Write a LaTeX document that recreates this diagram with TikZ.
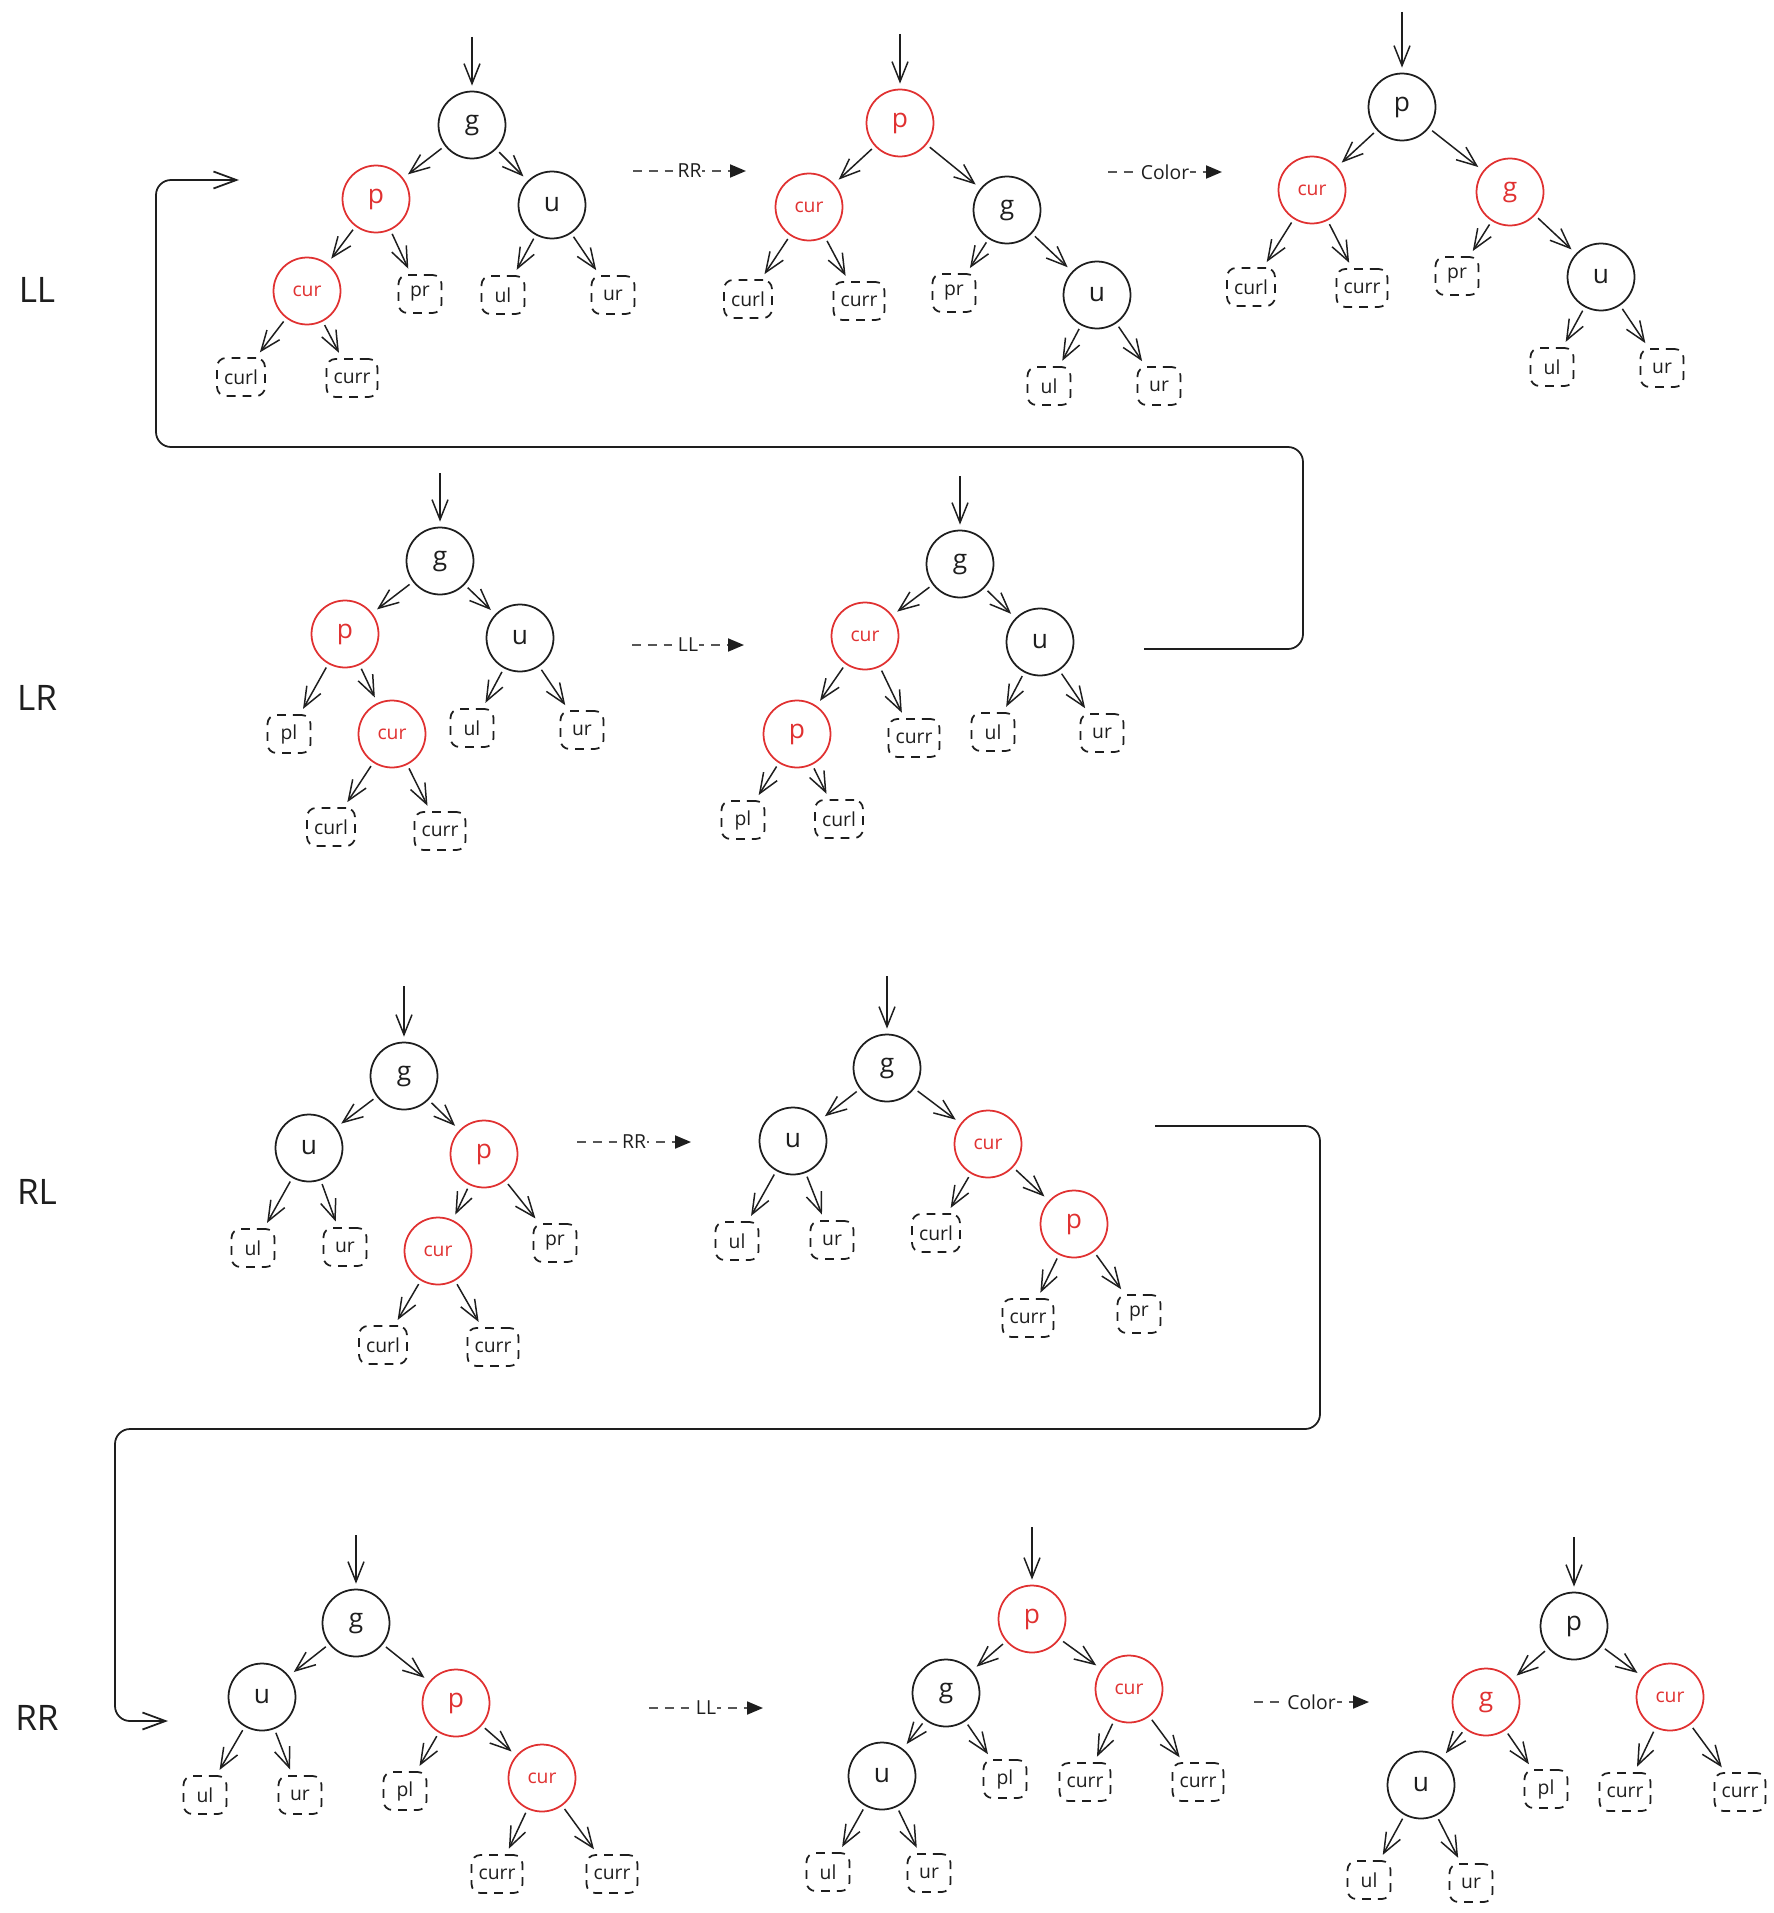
\documentclass[tikz,border=0pt]{standalone}
\usepackage{fontspec}
\setmainfont{Open Sans}
\usepackage{xcolor}
\usepackage{tikz}
\usetikzlibrary{arrows.meta}

\definecolor{exRed}{HTML}{E03131}
\definecolor{exInk}{HTML}{1E1E1E}

\tikzset{
  blackNode/.style={circle, draw=exInk, line width=1pt, minimum size=1.34cm,
    inner sep=0pt, text=exInk, font=\fontsize{15}{17}\selectfont},
  redNode/.style={blackNode, draw=exRed, text=exRed},
  curNode/.style={redNode, font=\fontsize{11}{13}\selectfont},
  leafBox/.style={draw=exInk, line width=1pt, dash pattern=on 5pt off 4pt,
    rounded corners=5pt, minimum width=0.86cm, minimum height=0.76cm,
    inner xsep=4pt, inner ysep=2pt, text=exInk, font=\fontsize{11}{13}\selectfont},
  treeEdge/.style={draw=exInk, line width=0.85pt,
    -{Straight Barb[length=4mm, width=3.2mm]},
    shorten >=0.12cm, shorten <=0.08cm},
  entryEdge/.style={treeEdge, shorten <=0pt, shorten >=0.1cm},
  opArrow/.style={draw=exInk!75, line width=1.1pt, dash pattern=on 5pt off 4pt,
    -{Triangle[length=3.2mm, width=2.6mm, color=exInk, fill=exInk]}},
  opLabel/.style={fill=white, inner sep=0.5pt, text=exInk,
    font=\fontsize{11}{13}\selectfont},
  loopLine/.style={draw=exInk, line width=1pt, rounded corners=0.3cm,
    -{Straight Barb[length=4.6mm, width=3.4mm]}},
  rowLabel/.style={text=exInk, font=\fontsize{20}{24}\selectfont}
}

\begin{document}
\begin{tikzpicture}[x=0.02cm, y=-0.02cm]

\useasboundingbox (0,0) rectangle (1774,1913);

% --- row labels ---
\node[rowLabel] (llLabel) at (37,290) {LL};
\node[rowLabel] (lrLabel) at (37,698) {LR};
\node[rowLabel] (rlLabel) at (37,1192) {RL};
\node[rowLabel] (rrLabel) at (37,1718) {RR};

% ===================== LL =====================
\begin{scope}
\coordinate (llAIn) at (472,37);
\node[blackNode] (llAG) at (472,125) {g};
\node[redNode] (llAP) at (376,199) {p};
\node[blackNode] (llAU) at (552,205) {u};
\node[curNode] (llACur) at (307,291) {cur};
\node[leafBox] (llAPr) at (420,294) {pr};
\node[leafBox] (llAUl) at (503,295) {ul};
\node[leafBox] (llAUr) at (613,295) {ur};
\node[leafBox] (llACurl) at (241,377) {curl};
\node[leafBox] (llACurr) at (352,378) {curr};

\draw[entryEdge] (llAIn) -- (llAG);
\foreach \a/\b in {G/P, G/U, P/Cur, P/Pr, U/Ul, U/Ur, Cur/Curl, Cur/Curr}
  \draw[treeEdge] (llA\a) -- (llA\b);
\end{scope}

\coordinate (llOpOneFrom) at (633,171);
\coordinate (llOpOneTo) at (746,171);
\draw[opArrow] (llOpOneFrom) -- node[opLabel] (llOpOne) {RR} (llOpOneTo);

\begin{scope}
\coordinate (llBIn) at (900,34);
\node[redNode] (llBP) at (900,123) {p};
\node[curNode] (llBCur) at (809,207) {cur};
\node[blackNode] (llBG) at (1007,210) {g};
\node[leafBox] (llBCurl) at (748,299) {curl};
\node[leafBox] (llBCurr) at (859,301) {curr};
\node[leafBox] (llBPr) at (954,293) {pr};
\node[blackNode] (llBU) at (1097,295) {u};
\node[leafBox] (llBUl) at (1049,386) {ul};
\node[leafBox] (llBUr) at (1159,386) {ur};

\draw[entryEdge] (llBIn) -- (llBP);
\foreach \a/\b in {P/Cur, P/G, Cur/Curl, Cur/Curr, G/Pr, G/U, U/Ul, U/Ur}
  \draw[treeEdge] (llB\a) -- (llB\b);
\end{scope}

\coordinate (llOpTwoFrom) at (1108,172);
\coordinate (llOpTwoTo) at (1222,172);
\draw[opArrow] (llOpTwoFrom) -- node[opLabel] (llOpTwo) {Color} (llOpTwoTo);

\begin{scope}
\coordinate (llCIn) at (1402,12);
\node[blackNode] (llCP) at (1402,107) {p};
\node[curNode] (llCCur) at (1312,190) {cur};
\node[redNode] (llCG) at (1510,192) {g};
\node[leafBox] (llCCurl) at (1251,287) {curl};
\node[leafBox] (llCCurr) at (1362,288) {curr};
\node[leafBox] (llCPr) at (1457,276) {pr};
\node[blackNode] (llCU) at (1601,277) {u};
\node[leafBox] (llCUl) at (1552,367) {ul};
\node[leafBox] (llCUr) at (1662,368) {ur};

\draw[entryEdge] (llCIn) -- (llCP);
\foreach \a/\b in {P/Cur, P/G, Cur/Curl, Cur/Curr, G/Pr, G/U, U/Ul, U/Ur}
  \draw[treeEdge] (llC\a) -- (llC\b);
\end{scope}

% ===================== LR =====================
\begin{scope}
\coordinate (lrAIn) at (440,473);
\node[blackNode] (lrAG) at (440,561) {g};
\node[redNode] (lrAP) at (345,634) {p};
\node[blackNode] (lrAU) at (520,638) {u};
\node[leafBox] (lrAPl) at (289,734) {pl};
\node[curNode] (lrACur) at (392,734) {cur};
\node[leafBox] (lrAUl) at (472,728) {ul};
\node[leafBox] (lrAUr) at (582,730) {ur};
\node[leafBox] (lrACurl) at (331,827) {curl};
\node[leafBox] (lrACurr) at (440,831) {curr};

\draw[entryEdge] (lrAIn) -- (lrAG);
\foreach \a/\b in {G/P, G/U, P/Pl, P/Cur, U/Ul, U/Ur, Cur/Curl, Cur/Curr}
  \draw[treeEdge] (lrA\a) -- (lrA\b);
\end{scope}

\coordinate (lrOpFrom) at (632,645);
\coordinate (lrOpTo) at (744,645);
\draw[opArrow] (lrOpFrom) -- node[opLabel] (lrOp) {LL} (lrOpTo);

\begin{scope}
\coordinate (lrBIn) at (960,476);
\node[blackNode] (lrBG) at (960,564) {g};
\node[curNode] (lrBCur) at (865,636) {cur};
\node[blackNode] (lrBU) at (1040,642) {u};
\node[redNode] (lrBP) at (797,734) {p};
\node[leafBox] (lrBCurr) at (914,738) {curr};
\node[leafBox] (lrBUl) at (993,732) {ul};
\node[leafBox] (lrBUr) at (1102,733) {ur};
\node[leafBox] (lrBPl) at (743,820) {pl};
\node[leafBox] (lrBCurl) at (839,819) {curl};

\draw[entryEdge] (lrBIn) -- (lrBG);
\foreach \a/\b in {G/Cur, G/U, Cur/P, Cur/Curr, U/Ul, U/Ur, P/Pl, P/Curl}
  \draw[treeEdge] (lrB\a) -- (lrB\b);
\end{scope}

% LR result feeds back into the LL case
\coordinate (loopOneStart) at (1144,649);
\coordinate (loopOneEnd) at (239,180);
\draw[loopLine] (loopOneStart) -- (1303,649) -- (1303,447) -- (156,447)
  -- (156,180) -- (loopOneEnd);

% ===================== RL =====================
\begin{scope}
\coordinate (rlAIn) at (404,986);
\node[blackNode] (rlAG) at (404,1076) {g};
\node[blackNode] (rlAU) at (309,1148) {u};
\node[redNode] (rlAP) at (484,1154) {p};
\node[leafBox] (rlAUl) at (253,1248) {ul};
\node[leafBox] (rlAUr) at (345,1247) {ur};
\node[curNode] (rlACur) at (438,1251) {cur};
\node[leafBox] (rlAPr) at (555,1243) {pr};
\node[leafBox] (rlACurl) at (383,1345) {curl};
\node[leafBox] (rlACurr) at (493,1347) {curr};

\draw[entryEdge] (rlAIn) -- (rlAG);
\foreach \a/\b in {G/U, G/P, U/Ul, U/Ur, P/Cur, P/Pr, Cur/Curl, Cur/Curr}
  \draw[treeEdge] (rlA\a) -- (rlA\b);
\end{scope}

\coordinate (rlOpFrom) at (577,1142);
\coordinate (rlOpTo) at (691,1142);
\draw[opArrow] (rlOpFrom) -- node[opLabel] (rlOp) {RR} (rlOpTo);

\begin{scope}
\coordinate (rlBIn) at (887,976);
\node[blackNode] (rlBG) at (887,1068) {g};
\node[blackNode] (rlBU) at (793,1141) {u};
\node[curNode] (rlBCur) at (988,1144) {cur};
\node[leafBox] (rlBUl) at (737,1241) {ul};
\node[leafBox] (rlBUr) at (832,1240) {ur};
\node[leafBox] (rlBCurl) at (936,1233) {curl};
\node[redNode] (rlBP) at (1074,1224) {p};
\node[leafBox] (rlBCurr) at (1028,1318) {curr};
\node[leafBox] (rlBPr) at (1139,1314) {pr};

\draw[entryEdge] (rlBIn) -- (rlBG);
\foreach \a/\b in {G/U, G/Cur, U/Ul, U/Ur, Cur/Curl, Cur/P, P/Curr, P/Pr}
  \draw[treeEdge] (rlB\a) -- (rlB\b);
\end{scope}

% RL result feeds into the RR case
\coordinate (loopTwoStart) at (1155,1126);
\coordinate (loopTwoEnd) at (168,1721);
\draw[loopLine] (loopTwoStart) -- (1320,1126) -- (1320,1429) -- (115,1429)
  -- (115,1721) -- (loopTwoEnd);

% ===================== RR =====================
\begin{scope}
\coordinate (rrAIn) at (356,1535);
\node[blackNode] (rrAG) at (356,1623) {g};
\node[blackNode] (rrAU) at (262,1697) {u};
\node[redNode] (rrAP) at (456,1703) {p};
\node[leafBox] (rrAUl) at (205,1795) {ul};
\node[leafBox] (rrAUr) at (300,1795) {ur};
\node[leafBox] (rrAPl) at (405,1791) {pl};
\node[curNode] (rrACur) at (542,1778) {cur};
\node[leafBox] (rrACurrA) at (497,1874) {curr};
\node[leafBox] (rrACurrB) at (612,1874) {curr};

\draw[entryEdge] (rrAIn) -- (rrAG);
\foreach \a/\b in {G/U, G/P, U/Ul, U/Ur, P/Pl, P/Cur, Cur/CurrA, Cur/CurrB}
  \draw[treeEdge] (rrA\a) -- (rrA\b);
\end{scope}

\coordinate (rrOpOneFrom) at (649,1708);
\coordinate (rrOpOneTo) at (763,1708);
\draw[opArrow] (rrOpOneFrom) -- node[opLabel] (rrOpOne) {LL} (rrOpOneTo);

\begin{scope}
\coordinate (rrBIn) at (1032,1527);
\node[redNode] (rrBP) at (1032,1619) {p};
\node[blackNode] (rrBG) at (946,1693) {g};
\node[curNode] (rrBCur) at (1129,1689) {cur};
\node[blackNode] (rrBU) at (882,1776) {u};
\node[leafBox] (rrBPl) at (1005,1779) {pl};
\node[leafBox] (rrBCurrA) at (1085,1782) {curr};
\node[leafBox] (rrBCurrB) at (1198,1782) {curr};
\node[leafBox] (rrBUl) at (828,1872) {ul};
\node[leafBox] (rrBUr) at (929,1873) {ur};

\draw[entryEdge] (rrBIn) -- (rrBP);
\foreach \a/\b in {P/G, P/Cur, G/U, G/Pl, Cur/CurrA, Cur/CurrB, U/Ul, U/Ur}
  \draw[treeEdge] (rrB\a) -- (rrB\b);
\end{scope}

\coordinate (rrOpTwoFrom) at (1254,1702);
\coordinate (rrOpTwoTo) at (1369,1702);
\draw[opArrow] (rrOpTwoFrom) -- node[opLabel] (rrOpTwo) {Color} (rrOpTwoTo);

\begin{scope}
\coordinate (rrCIn) at (1574,1537);
\node[blackNode] (rrCP) at (1574,1626) {p};
\node[redNode] (rrCG) at (1486,1702) {g};
\node[curNode] (rrCCur) at (1670,1697) {cur};
\node[blackNode] (rrCU) at (1421,1785) {u};
\node[leafBox] (rrCPl) at (1546,1789) {pl};
\node[leafBox] (rrCCurrA) at (1625,1792) {curr};
\node[leafBox] (rrCCurrB) at (1740,1792) {curr};
\node[leafBox] (rrCUl) at (1369,1880) {ul};
\node[leafBox] (rrCUr) at (1471,1883) {ur};

\draw[entryEdge] (rrCIn) -- (rrCP);
\foreach \a/\b in {P/G, P/Cur, G/U, G/Pl, Cur/CurrA, Cur/CurrB, U/Ul, U/Ur}
  \draw[treeEdge] (rrC\a) -- (rrC\b);
\end{scope}

\end{tikzpicture}
\end{document}
